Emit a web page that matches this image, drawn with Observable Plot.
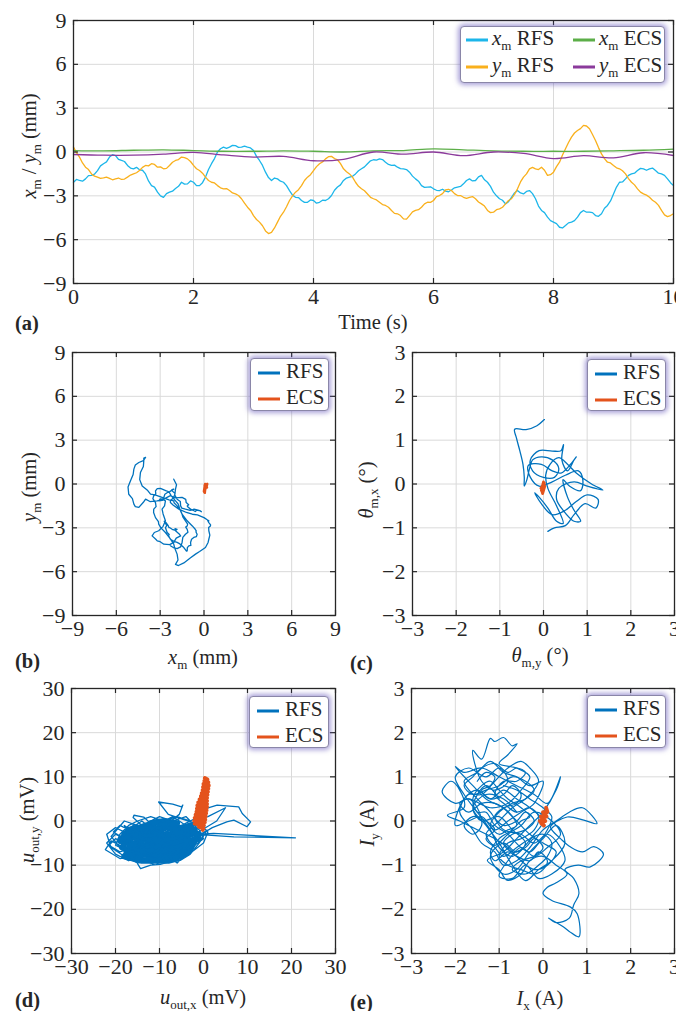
<!DOCTYPE html>
<html><head><meta charset="utf-8">
<script src="https://cdn.jsdelivr.net/npm/d3@7"></script>
<script src="https://cdn.jsdelivr.net/npm/@observablehq/plot@0.6"></script>
<style>
body{margin:0;background:#fff;}
#root{position:relative;width:676px;height:1011px;overflow:hidden;font-family:"Liberation Serif","Times New Roman",serif;color:#262626;}
#root svg{position:absolute;}
.lab{position:absolute;font-size:20.5px;white-space:nowrap;transform:translate(-50%,-50%);line-height:1;}
.rot{transform:translate(-50%,-50%) rotate(-90deg);}
.tag{position:absolute;font-size:20.5px;font-weight:bold;transform:translateY(-50%);line-height:1;}
sub{font-size:13px;vertical-align:-5px;line-height:0;font-style:normal;}
.leg{position:absolute;background:#fff;border:1px solid #8a86a8;border-radius:4px;box-shadow:0 0 5px 2px rgba(100,85,185,.55);font-size:21px;}
.row{position:absolute;white-space:nowrap;line-height:1;transform:translateY(-55%);}
.sw{position:absolute;height:3px;transform:translateY(-50%);}
</style>
</head><body>
<div id="root"></div>
<script>
// ---------- DATA ----------
const t = [0,0.05,0.1,0.15,0.2,0.25,0.3,0.35,0.4,0.45,0.5,0.55,0.6,0.65,0.7,0.75,0.8,0.85,0.9,0.95,1,1.05,1.1,1.15,1.2,1.25,1.3,1.35,1.4,1.45,1.5,1.55,1.6,1.65,1.7,1.75,1.8,1.85,1.9,1.95,2,2.05,2.1,2.15,2.2,2.25,2.3,2.35,2.4,2.45,2.5,2.55,2.6,2.65,2.7,2.75,2.8,2.85,2.9,2.95,3,3.05,3.1,3.15,3.2,3.25,3.3,3.35,3.4,3.45,3.5,3.55,3.6,3.65,3.7,3.75,3.8,3.85,3.9,3.95,4,4.05,4.1,4.15,4.2,4.25,4.3,4.35,4.4,4.45,4.5,4.55,4.6,4.65,4.7,4.75,4.8,4.85,4.9,4.95,5,5.05,5.1,5.15,5.2,5.25,5.3,5.35,5.4,5.45,5.5,5.55,5.6,5.65,5.7,5.75,5.8,5.85,5.9,5.95,6,6.05,6.1,6.15,6.2,6.25,6.3,6.35,6.4,6.45,6.5,6.55,6.6,6.65,6.7,6.75,6.8,6.85,6.9,6.95,7,7.05,7.1,7.15,7.2,7.25,7.3,7.35,7.4,7.45,7.5,7.55,7.6,7.65,7.7,7.75,7.8,7.85,7.9,7.95,8,8.05,8.1,8.15,8.2,8.25,8.3,8.35,8.4,8.45,8.5,8.55,8.6,8.65,8.7,8.75,8.8,8.85,8.9,8.95,9,9.05,9.1,9.15,9.2,9.25,9.3,9.35,9.4,9.45,9.5,9.55,9.6,9.65,9.7,9.75,9.8,9.85,9.9,9.95,10];
const xmRFS = [-2.07,-1.88,-1.95,-2.0,-1.84,-1.62,-1.6,-1.52,-1.27,-0.95,-0.8,-0.68,-0.35,-0.18,-0.24,-0.5,-0.58,-0.65,-0.92,-1.1,-1.15,-1.05,-1.22,-1.25,-1.5,-1.98,-2.3,-2.4,-2.75,-3.0,-3.1,-2.85,-2.75,-2.68,-2.5,-2.35,-2.07,-2.2,-2.18,-1.98,-2.07,-2.3,-2.3,-2.1,-1.72,-1.2,-0.8,-0.45,0,0.22,0.33,0.25,0.33,0.45,0.44,0.32,0.33,0.4,0.33,0.28,0.1,-0.3,-0.58,-0.92,-1.38,-1.75,-1.95,-1.78,-1.84,-2.0,-2.07,-2.3,-2.64,-2.95,-3.1,-3.12,-3.32,-3.45,-3.44,-3.28,-3.32,-3.5,-3.44,-3.3,-3.32,-3.2,-2.98,-2.62,-2.4,-2.25,-1.95,-1.78,-1.72,-1.66,-1.5,-1.28,-1.15,-1.02,-0.8,-0.6,-0.53,-0.55,-0.47,-0.52,-0.7,-0.85,-0.92,-0.9,-1.04,-1.14,-1.15,-1.2,-1.38,-1.65,-1.84,-2.0,-2.3,-2.42,-2.4,-2.38,-2.52,-2.62,-2.64,-2.55,-2.68,-2.72,-2.6,-2.45,-2.4,-2.36,-2.18,-1.95,-1.84,-1.98,-1.95,-1.7,-1.6,-1.9,-2.07,-2.35,-2.75,-3.0,-3.2,-3.3,-3.55,-3.4,-3.1,-2.8,-2.64,-2.8,-2.87,-2.7,-2.64,-2.85,-3.2,-3.7,-4.0,-4.15,-4.46,-4.7,-4.8,-4.9,-5.15,-5.2,-5.03,-4.85,-4.8,-4.7,-4.46,-4.15,-4.0,-4.12,-4.12,-4.15,-4.35,-4.4,-4.23,-3.85,-3.66,-3.35,-2.87,-2.4,-2.07,-2.05,-1.84,-1.6,-1.5,-1.45,-1.27,-1.12,-1.15,-1.25,-1.15,-1.1,-1.27,-1.45,-1.5,-1.6,-1.84,-2.1,-2.3];
const ymRFS = [0.33,-0.05,-0.35,-0.75,-1.04,-1.2,-1.5,-1.65,-1.72,-1.8,-1.77,-1.72,-1.8,-1.9,-1.84,-1.78,-1.88,-1.85,-1.72,-1.58,-1.5,-1.42,-1.27,-1.05,-0.92,-0.95,-0.8,-0.85,-1.04,-1.02,-1.15,-1.12,-0.92,-0.7,-0.58,-0.52,-0.35,-0.38,-0.47,-0.65,-0.92,-1.15,-1.27,-1.45,-1.72,-1.95,-2.07,-2.12,-2.3,-2.45,-2.52,-2.5,-2.64,-2.8,-2.87,-2.98,-3.2,-3.5,-3.78,-4.0,-4.35,-4.62,-4.8,-5.05,-5.4,-5.58,-5.5,-5.2,-4.8,-4.4,-4.12,-3.75,-3.32,-3.0,-2.75,-2.58,-2.3,-1.95,-1.72,-1.55,-1.27,-1.0,-0.8,-0.68,-0.47,-0.32,-0.3,-0.45,-0.53,-0.8,-1.15,-1.35,-1.5,-1.72,-2.07,-2.35,-2.52,-2.65,-2.87,-3.1,-3.2,-3.28,-3.44,-3.6,-3.66,-3.78,-4.0,-4.2,-4.23,-4.35,-4.58,-4.6,-4.35,-4.1,-4.0,-3.95,-3.78,-3.55,-3.44,-3.45,-3.32,-3.05,-2.98,-2.85,-2.6,-2.55,-2.64,-2.85,-2.98,-2.98,-3.1,-3.18,-3.1,-3.05,-3.2,-3.42,-3.55,-3.7,-4.0,-4.15,-4.12,-3.95,-3.89,-3.78,-3.55,-3.32,-3.2,-2.9,-2.52,-2.05,-1.72,-1.5,-1.15,-1.05,-1.15,-1.2,-1.04,-1.25,-1.6,-1.55,-1.38,-1.0,-0.7,-0.2,0.22,0.65,1.02,1.3,1.47,1.6,1.82,1.78,1.59,1.2,0.79,0.3,-0.13,-0.45,-0.7,-0.75,-0.92,-1.08,-1.15,-1.28,-1.5,-1.82,-2.07,-2.25,-2.52,-2.75,-2.87,-2.95,-3.1,-3.3,-3.44,-3.65,-4.0,-4.3,-4.42,-4.35,-4.23];
const tE = [0,0.5,1,1.5,2,2.5,3,3.5,4,4.5,5,5.5,6,6.5,7,7.5,8,8.5,9,9.5,10];
const xmECS = [0.1,0.08,0.12,0.15,0.1,0.05,0.05,0.08,0.05,0.0,0.08,0.1,0.22,0.15,0.08,0.05,0.05,0.05,0.08,0.12,0.2];
const ymECS = [-0.17,-0.22,-0.22,-0.15,-0.02,-0.2,-0.35,-0.3,-0.6,-0.5,0.0,-0.15,0.0,-0.25,0.0,-0.1,-0.45,-0.25,-0.4,-0.05,-0.24];

const thRFS = [[0.02,1.47],[-0.15,1.33],[-0.4,1.24],[-0.66,1.25],[-0.62,1.05],[-0.54,0.75],[-0.47,0.45],[-0.44,0.15],[-0.44,-0.05],[-0.38,0.1],[-0.32,0.35],[-0.25,0.55],[-0.05,0.62],[0.2,0.55],[0.35,0.35],[0.25,0.15],[0.0,0.15],[-0.25,0.3],[-0.3,0.55],[-0.1,0.76],[0.2,0.75],[0.4,0.76],[0.46,0.9],[0.42,0.55],[0.55,0.3],[0.7,0.55],[0.75,0.62],[0.62,0.45],[0.4,0.25],[0.2,0.3],[-0.05,0.45],[-0.35,0.42],[-0.3,0.15],[-0.1,-0.05],[0.2,0.05],[0.5,0.2],[0.8,0.3],[0.9,0.1],[0.85,-0.15],[0.6,-0.05],[0.45,0.1],[0.55,-0.3],[0.7,-0.6],[0.85,-0.85],[0.7,-0.85],[0.45,-0.6],[0.3,-0.35],[0.35,-0.1],[0.7,0.05],[1.0,-0.05],[1.36,-0.14],[1.1,0.0],[0.75,0.25],[0.55,0.45],[0.35,0.6],[0.15,0.45],[0.05,0.2],[0.1,-0.1],[0.3,-0.5],[0.45,-0.9],[0.3,-0.85],[0.1,-0.55],[-0.1,-0.3],[-0.2,-0.2],[-0.05,-0.45],[0.2,-0.7],[0.5,-0.6],[0.75,-0.4],[1.0,-0.25],[1.25,-0.35],[1.2,-0.55],[0.95,-0.45],[0.7,-0.7],[0.5,-0.95],[0.25,-1.0],[0.1,-1.08]];
const thECS = [[-0.05,-0.15],[0.0,0.05],[-0.03,-0.2],[0.02,0.02],[-0.06,-0.1],[0.03,-0.05],[-0.02,-0.22],[0.0,0.04]];

const uRFS = [[-3,-3],[-5,-4.5],[-8,-3],[-11,-5],[-14,-3.5],[-17,-5.5],[-20,-4],[-21.5,-5.5],[-19,-7],[-16,-6],[-13,-8],[-10,-6.5],[-7,-8],[-4,-6],[-2,-4],[-1,-2.5],[-4,-1.5],[-7,-2.5],[-10,-1],[-13,-2],[-16,-1],[-18,-2.5],[-20,-1.5],[-22,-3],[-21,-6],[-18,-8],[-15,-9.5],[-12,-9],[-9,-9.5],[-6,-8.5],[-4,-7],[-2,-5.5],[0,-4],[-1,-2],[-3,0],[-6,1],[-9,0],[-12,1],[-15,0],[-17,-1],[-19,-3],[-20,-5.5],[-17,-7],[-14,-7],[-11,-8.5],[-8,-7],[-5,-7.5],[-3,-5],[-5,-3],[-8,-5],[-11,-3.5],[-14,-5],[-17,-3],[-15,-2],[-12,-4],[-9,-2],[-6,-4],[-3,-2],[-2,-0.5],[-5,0.5],[-8,1.5],[-10.2,4.3],[-7,3.8],[-5,3.2],[-4.7,3.6],[-5.5,1.5],[-8,-0.5],[-11,0.5],[-14,-1],[-16,0.8],[-15.8,1.3],[-13.6,0.9],[-11,-1.5],[-9,-4],[-12,-6],[-15,-4],[-18,-6],[-21,-4.5],[-22.3,-6.5],[-19,-8.5],[-16,-8],[-14.3,-10.8],[-12,-10],[-9.8,-9.8],[-7,-9],[-5.2,-8.9],[-3,-7.5],[-1,-5],[0.8,-2.1],[-1.5,-3.5],[-4,-4.5],[-7,-5.5],[-10,-4],[-13,-6.5],[-16,-4.5],[-19,-5],[-17,-2],[-14,0],[-11,-2.5],[-8,-1],[-5,-2],[-2,-1.5],[0.5,2.8],[3.1,3.6],[8,3.2],[8.8,1.7],[10.7,-0.2],[9.9,-1.3],[6.9,0.2],[5.3,-0.2],[2,-1.5],[-0.5,-3],[2.3,-2.8],[20.9,-3.8],[6.9,-3.6],[1,-3.2],[-2,-3],[-4,-5.5],[-6,-6.5],[-9,-5.5],[-12,-7.5],[-15,-6.5],[-18,-4],[-20.5,-2.5],[-19,-1],[-16,-2.5],[-13,-0.5],[-10,1],[-7,0],[-4,1],[-2,-1],[-1,-3.8],[-3,-6.5],[-6,-9.5],[-8,-8],[-11,-10],[-13,-9],[-15,-8],[-17,-9],[-20,-7.5],[-22,-5],[-20,-3],[-17,-4.5],[-14,-2.5],[-12,-5],[-10,-3],[-7,-4],[-4,-3],[-6,-1],[-9,-3],[-12,-1.5],[-15,-3],[-18,-1],[-16,-5],[-13,-4.5],[-10,-7.5],[-7,-6],[-4,-8],[-2,-6.5],[0,-5],[1,-2.5],[-1,-0.5],[-4,-1],[-7,1],[-10,-0.5],[-13,-3],[-16,-7],[-19,-6],[-21,-3.5],[-18,0],[-15,-1],[-12,-2.5],[-9,-6],[-6,-5],[-3,-4],[-5,-6],[-8,-9],[-11,-7],[-14,-8.5],[-17,-6.5],[-14,-6],[-11,-4.5],[-8,-2],[-5,-5],[-2,-3],[3,0],[5,3],[1,1],[-2,0.5],[-5,-1]];
const uRFScore = [[-18,-5],[-15,-3],[-12,-5],[-9,-3],[-6,-5],[-3,-3],[-2,-2],[-5,-2.5],[-8,-4],[-11,-2.5],[-14,-4],[-17,-3.5],[-18.5,-6],[-16,-7],[-13,-5.5],[-10,-7],[-7,-6],[-4,-6.5],[-2,-4.5],[-5,-4],[-8,-6],[-11,-4],[-14,-6],[-17,-5],[-15,-8],[-12,-7],[-9,-8.5],[-6,-7],[-3,-5.5],[-1,-3],[-4,-2],[-7,-1],[-10,-2],[-13,-1],[-16,-2],[-18,-3],[-16,-5.5],[-13,-3],[-10,-5],[-7,-3],[-4,-4.5],[-6,-6],[-9,-5],[-12,-6.5],[-15,-5],[-17.5,-7],[-14,-7.5],[-11,-8],[-8,-7.5],[-5,-8],[-3,-6.5],[-1.5,-3.5],[-3,-1],[-6,-2],[-9,-1],[-12,-3],[-15,-1.5],[-17,-2],[-19,-4.5],[-16,-3.5],[-13,-2],[-10,-3.5],[-7,-4.5],[-4,-3.5],[-2,-2.5],[-1,-4],[-4,-5],[-7,-7],[-10,-6],[-13,-7],[-16,-6],[-18,-8],[-14,-9],[-11,-9],[-8,-9],[-6,-8.5],[-8,-3],[-11,-6],[-14,-2.5],[-12,-0.5],[-9,0],[-6,-0.5]];
const uECS = [[-0.2,-2],[0.0,-1.7],[-1.1,-1.3],[0.1,-1.0],[-2.0,-0.6],[0.3,-0.3],[-2.1,0],[0.4,0.35],[-2.0,0.7],[0.5,1.05],[-1.8,1.4],[0.6,1.75],[-1.6,2.1],[0.7,2.45],[-1.5,2.8],[0.8,3.15],[-1.4,3.5],[0.8,3.85],[-1.2,4.2],[0.8,4.55],[-0.9,4.9],[0.8,5.25],[-0.6,5.6],[0.9,5.95],[-0.4,6.3],[1.0,6.65],[-0.2,7.0],[1.1,7.35],[-0.1,7.7],[1.2,8.05],[0.0,8.4],[1.1,8.75],[0.2,9.1],[0.9,9.4],[0.3,9.7]];

const iRFS = [[-0.6,0.2],[-0.9,0.5],[-1.3,0.6],[-1.6,0.3],[-1.4,0.0],[-1.0,0.1],[-0.7,-0.2],[-0.4,-0.5],[-0.7,-0.8],[-1.0,-0.6],[-1.2,-0.2],[-1.5,0.2],[-1.8,0.6],[-2.0,1.0],[-1.7,1.2],[-1.3,1.0],[-1.0,1.2],[-0.8,0.9],[-1.1,0.7],[-1.4,0.9],[-1.6,1.6],[-1.4,1.4],[-1.2,1.87],[-1.1,1.8],[-0.9,1.89],[-0.7,1.7],[-0.59,1.75],[-0.8,1.5],[-1.0,1.3],[-0.6,1.2],[-0.3,1.0],[-0.5,0.7],[-0.8,0.4],[-1.2,0.3],[-1.7,0.5],[-2.0,0.4],[-2.3,0.66],[-2.1,0.9],[-1.9,0.7],[-1.8,0.3],[-2.18,0.13],[-1.9,0.0],[-1.5,-0.2],[-1.1,-0.4],[-0.8,-0.6],[-0.5,-0.9],[-0.2,-1.1],[0.1,-1.0],[0.3,-0.7],[0.0,-0.5],[-0.3,-0.3],[-0.6,0.0],[-0.9,0.3],[-1.3,0.5],[-1.6,0.8],[-2.0,1.23],[-1.8,1.1],[-1.4,1.2],[-1.0,1.0],[-0.6,0.8],[-0.2,0.6],[0.1,0.4],[0.4,1.0],[0.3,0.7],[0.0,0.2],[-0.3,-0.1],[-0.6,-0.4],[-0.9,-0.7],[-1.27,-0.89],[-1.0,-1.1],[-0.82,-1.34],[-0.5,-1.2],[-0.3,-0.9],[0.0,-0.8],[0.3,-1.0],[0.55,-1.2],[0.3,-1.4],[0.1,-1.5],[0.0,-1.64],[0.2,-1.8],[0.63,-1.95],[0.78,-2.1],[0.82,-2.62],[0.6,-2.5],[0.47,-2.4],[0.13,-2.2],[0.3,-2.3],[0.6,-2.2],[0.7,-1.9],[0.82,-1.64],[0.7,-1.3],[0.5,-1.1],[0.8,-1.0],[1.08,-1.04],[1.38,-0.75],[1.16,-0.58],[0.9,-0.7],[0.63,-0.59],[0.4,-0.4],[0.2,-0.2],[0.17,-0.13],[0.55,0.09],[0.93,0.02],[1.23,-0.06],[0.9,0.3],[0.6,0.2],[0.3,0.0],[0.0,-0.2],[-0.3,-0.6],[-0.6,-0.9],[-0.9,-1.0],[-1.1,-0.7],[-1.4,-0.5],[-1.6,-0.2],[-1.9,0.2],[-1.7,0.6],[-1.4,0.6],[-1.1,0.9],[-0.8,1.2],[-0.5,1.35],[-0.3,1.2],[-0.1,0.9],[-0.4,0.5],[-0.7,0.3],[-1.0,0.0],[-1.3,-0.3],[-1.1,-0.55],[-0.8,-0.3],[-0.5,-0.1],[-0.2,0.2],[0.2,0.0],[0.4,-0.3],[0.1,-0.6],[-0.2,-0.8],[-0.5,-0.6],[-0.8,-0.9],[-1.0,-1.25],[-0.7,-1.3],[-0.4,-1.0],[-0.1,-1.3],[0.2,-1.2],[0.5,-0.9],[0.4,-0.6],[0.1,-0.3],[-0.2,-0.5],[-0.5,-0.3],[-0.9,-0.2],[-1.2,0.2],[-1.5,0.5],[-1.8,0.9],[-1.5,1.1],[-1.2,1.35],[-0.9,1.1],[-0.6,1.0],[-0.3,0.8],[0.0,0.9],[-0.2,0.4],[-0.5,0.2],[-0.8,0.0],[-1.1,-0.2],[-1.4,0.1],[-1.7,0.0],[-2.0,-0.1],[-1.8,0.5],[-1.5,0.7],[-1.2,0.5],[-0.9,0.7],[-0.6,0.5],[-0.3,0.3],[0.0,0.0],[-0.2,-0.3],[-0.6,-0.7],[-0.9,-0.5],[-1.2,-0.8],[-0.9,-1.2],[-0.6,-1.1],[-0.3,-0.7],[0.0,-0.4],[0.3,-0.1],[0.5,-0.5],[0.2,-0.9],[-0.1,-1.1],[-0.4,-1.35],[-0.7,-1.0],[-1.0,-0.5],[-1.3,-0.1],[-1.6,0.3],[-1.3,0.8],[-1.0,0.5]];
const iRFScore = [[-1.5,0.9],[-1.3,1.1],[-1.1,1.0],[-1.2,0.8],[-1.4,0.7],[-1.2,0.5],[-0.9,0.6],[-0.7,0.8],[-0.5,0.6],[-0.6,0.4],[-0.9,0.3],[-1.1,0.1],[-0.9,-0.1],[-0.6,0.0],[-0.4,0.2],[-0.2,0.0],[-0.4,-0.2],[-0.7,-0.3],[-0.9,-0.5],[-0.7,-0.7],[-0.4,-0.6],[-0.2,-0.4],[0.0,-0.6],[-0.2,-0.8],[-0.5,-0.9],[-0.7,-1.1],[-0.4,-1.2],[-0.1,-1.0],[0.1,-0.8],[0.2,-0.5],[0.0,-0.3],[-0.3,-0.4],[-0.6,-0.6],[-0.9,-0.8],[-1.1,-0.6],[-1.3,-0.4],[-1.1,-0.2],[-1.3,0.0],[-1.6,0.1],[-1.8,-0.1],[-1.6,-0.3],[-1.4,-0.1],[-1.5,0.3],[-1.7,0.5],[-1.9,0.4],[-1.7,0.2],[-1.4,0.4],[-1.1,0.4],[-0.8,0.2],[-0.6,-0.1],[-0.8,-0.2],[-1.0,-0.3],[-1.2,-0.1],[-1.0,0.2],[-0.7,0.4],[-0.4,0.5],[-0.2,0.7],[-0.4,0.9],[-0.7,1.0],[-1.0,0.8],[-1.3,0.7],[-1.6,0.6],[-1.8,0.8],[-1.6,1.0],[-1.4,1.2],[-1.1,1.3],[-0.8,1.1],[-0.6,1.2],[-0.4,1.1],[-0.6,0.9],[-0.9,0.9],[-1.1,0.6],[-0.9,0.4],[-0.6,0.2],[-0.3,0.3],[-0.1,0.1],[-0.2,-0.2],[-0.5,-0.4],[-0.8,-0.5],[-1.0,-0.8],[-0.8,-1.0],[-0.5,-1.1],[-0.2,-1.2],[0.0,-1.1],[0.1,-0.9],[-0.1,-0.7],[-0.3,-0.9],[-0.6,-0.8],[-0.8,-0.7],[-1.1,-0.9],[-1.2,-0.7],[-1.0,-0.4],[-0.7,-0.2],[-0.5,0.0],[-0.3,0.1],[-0.5,0.3],[-0.8,0.5],[-1.0,0.7],[-1.2,0.9],[-1.4,0.8],[-1.6,0.5],[-1.5,0.2],[-1.3,0.2],[-1.1,-0.1],[-0.8,-0.3],[-0.5,-0.6],[-0.3,-0.7],[-0.1,-0.5],[0.1,-0.2],[0.2,0.1],[0.0,0.3],[-0.3,0.5],[-0.6,0.7],[-0.9,0.8]];
const iECS = [[0.07,0.3],[0.1,0.2],[0.0,0.2],[0.08,0.1],[-0.05,0.1],[0.05,0.0],[-0.07,0.0],[0.02,-0.1],[-0.04,-0.05]];

const ticksTime = [0,2,4,6,8,10];
const ticks9 = [-9,-6,-3,0,3,6,9];
const ticks3 = [-3,-2,-1,0,1,2,3];
const ticks30 = [-30,-20,-10,0,10,20,30];

const C = {cyan:"#1cb6ea", yellow:"#f9b01c", green:"#5cae48", purple:"#8b3a9b", blue:"#0072bd", orange:"#e4531c"};

// ---------- HELPERS ----------
const root = document.getElementById("root");
const fmt = d3.format("d");
function panel({left, top, width, height, ml, mr, mt, mb, xd, yd, xt, yt, marks}) {
  const W = width - ml - mr, H = height - mt - mb;
  const svg = Plot.plot({
    width, height, marginLeft: ml, marginRight: mr, marginTop: mt, marginBottom: mb,
    style: {fontFamily: '"Liberation Serif", serif', fontSize: "22px", color: "#262626", background: "transparent", overflow: "visible"},
    x: {domain: xd, ticks: xt, tickSize: 0, tickPadding: 5, tickFormat: fmt, label: null},
    y: {domain: yd, ticks: yt, tickSize: 0, tickPadding: 7, tickFormat: fmt, label: null},
    marks: [
      Plot.ruleX(xt, {stroke: "#dadada", strokeWidth: 1}),
      Plot.ruleY(yt, {stroke: "#dadada", strokeWidth: 1}),
      ...marks,
      Plot.tickX(xt, {x: d => d, insetTop: H - 5, stroke: "#262626", strokeWidth: 1.2}),
      Plot.tickX(xt, {x: d => d, insetBottom: H - 5, stroke: "#262626", strokeWidth: 1.2}),
      Plot.tickY(yt, {y: d => d, insetRight: W - 5, stroke: "#262626", strokeWidth: 1.2}),
      Plot.tickY(yt, {y: d => d, insetLeft: W - 5, stroke: "#262626", strokeWidth: 1.2}),
      Plot.frame({stroke: "#262626", strokeWidth: 1.3})
    ]
  });
  svg.style.left = left + "px";
  svg.style.top = top + "px";
  root.appendChild(svg);
}
function html(s) { const d = document.createElement("div"); d.innerHTML = s; return d.firstChild; }
function label(x, y, s, rot) { root.appendChild(html(`<div class="lab${rot ? " rot" : ""}" style="left:${x}px;top:${y}px">${s}</div>`)); }
function tag(x, y, s) { root.appendChild(html(`<div class="tag" style="left:${x}px;top:${y}px">${s}</div>`)); }
function legend(left, top, w, h, rows) {
  let inner = rows.map(r => `<div class="sw" style="left:${r.sx}px;width:${r.sw}px;top:${r.y}px;background:${r.c}"></div><div class="row" style="left:${r.tx}px;top:${r.y}px">${r.s}</div>`).join("");
  root.appendChild(html(`<div class="leg" style="left:${left}px;top:${top}px;width:${w}px;height:${h}px">${inner}</div>`));
}
const P = arr => arr.map(d => ({x: d[0], y: d[1]}));
const A = (vals, tt) => tt.map((v, i) => ({x: v, y: vals[i]}));
const lr = (c1, c2) => [
  {sx: 7, sw: 22, tx: 35, y: 14, c: c1, s: `RFS`},
  {sx: 7, sw: 22, tx: 35, y: 40, c: c2, s: `ECS`}];

// ---------- (a) ----------
panel({left: 0, top: 0, width: 676, height: 320, ml: 73, mr: 3, mt: 20, mb: 37,
  xd: [0, 10], yd: [-9, 9], xt: ticksTime, yt: ticks9,
  marks: [
    Plot.line(A(xmRFS, t), {x: "x", y: "y", stroke: C.cyan, strokeWidth: 1.3}),
    Plot.line(A(ymRFS, t), {x: "x", y: "y", stroke: C.yellow, strokeWidth: 1.3}),
    Plot.line(A(xmECS, tE), {x: "x", y: "y", stroke: C.green, strokeWidth: 1.3, curve: "catmull-rom"}),
    Plot.line(A(ymECS, tE), {x: "x", y: "y", stroke: C.purple, strokeWidth: 1.3, curve: "catmull-rom"})
  ]});
label(29, 146, `<i>x</i><sub>m</sub> / <i>y</i><sub>m</sub> (mm)`, true);
label(373, 322, `Time (s)`);
tag(15, 323, `(a)`);
legend(460, 26, 203, 55, [
  {sx: 5, sw: 22, tx: 31, y: 13, c: C.cyan, s: `<i>x</i><sub>m</sub> RFS`},
  {sx: 5, sw: 22, tx: 31, y: 40, c: C.yellow, s: `<i>y</i><sub>m</sub> RFS`},
  {sx: 112, sw: 22, tx: 138, y: 13, c: C.green, s: `<i>x</i><sub>m</sub> ECS`},
  {sx: 112, sw: 22, tx: 138, y: 40, c: C.purple, s: `<i>y</i><sub>m</sub> ECS`}
]);

// ---------- (b) ----------
panel({left: 0, top: 340, width: 345, height: 310, ml: 72, mr: 10, mt: 12, mb: 35,
  xd: [-9, 9], yd: [-9, 9], xt: ticks9, yt: ticks9,
  marks: [
    Plot.line(xmRFS.map((v, i) => ({x: v, y: ymRFS[i]})), {x: "x", y: "y", stroke: C.blue, strokeWidth: 1.3}),
    Plot.line(xmECS.map((v, i) => ({x: v, y: ymECS[i]})), {x: "x", y: "y", stroke: C.orange, strokeWidth: 2.6})
  ]});
label(29, 487, `<i>y</i><sub>m</sub> (mm)`, true);
label(203, 657, `<i>x</i><sub>m</sub> (mm)`);
tag(15, 661, `(b)`);
legend(250, 358, 77, 51, lr(C.blue, C.orange));

// ---------- (c) ----------
panel({left: 340, top: 340, width: 336, height: 310, ml: 72, mr: 2, mt: 12, mb: 35,
  xd: [-3, 3], yd: [-3, 3], xt: ticks3, yt: ticks3,
  marks: [
    Plot.line(P(thRFS), {x: "x", y: "y", stroke: C.blue, strokeWidth: 1.3, curve: "catmull-rom"}),
    Plot.line(P(thECS), {x: "x", y: "y", stroke: C.orange, strokeWidth: 2.8})
  ]});
label(366, 490, `<i>θ</i><sub>m,x</sub> (°)`, true);
label(540, 655, `<i>θ</i><sub>m,y</sub> (°)`);
tag(350, 663, `(c)`);
legend(587, 359, 77, 50, lr(C.blue, C.orange));

// ---------- (d) ----------
panel({left: 0, top: 676, width: 345, height: 310, ml: 71, mr: 10, mt: 12, mb: 33,
  xd: [-30, 30], yd: [-30, 30], xt: ticks30, yt: ticks30,
  marks: [
    Plot.line(P(uRFScore), {x: "x", y: "y", stroke: C.blue, strokeWidth: 6, strokeLinejoin: "round", strokeLinecap: "round"}),
    Plot.line(P(uRFS), {x: "x", y: "y", stroke: C.blue, strokeWidth: 1.3}),
    Plot.line(P(uECS), {x: "x", y: "y", stroke: C.orange, strokeWidth: 4, strokeLinejoin: "round", strokeLinecap: "round"})
  ]});
label(27, 820, `<i>u</i><sub>out,y</sub> (mV)`, true);
label(203, 997, `<i>u</i><sub>out,x</sub> (mV)`);
tag(15, 1000, `(d)`);
legend(249, 696, 78, 50, lr(C.blue, C.orange));

// ---------- (e) ----------
panel({left: 340, top: 676, width: 336, height: 310, ml: 71, mr: 2, mt: 12, mb: 33,
  xd: [-3, 3], yd: [-3, 3], xt: ticks3, yt: ticks3,
  marks: [
    Plot.line(P(iRFS), {x: "x", y: "y", stroke: C.blue, strokeWidth: 1.2, curve: "catmull-rom"}),
    Plot.line(P(iRFScore), {x: "x", y: "y", stroke: C.blue, strokeWidth: 1.2, curve: "catmull-rom"}),
    Plot.line(P(iECS), {x: "x", y: "y", stroke: C.orange, strokeWidth: 4, strokeLinejoin: "round", strokeLinecap: "round"})
  ]});
label(367, 823, `<i>I</i><sub>y</sub> (A)`, true);
label(540, 998, `<i>I</i><sub>x</sub> (A)`);
tag(350, 1002, `(e)`);
legend(587, 695, 77, 51, lr(C.blue, C.orange));
</script>
</body></html>
